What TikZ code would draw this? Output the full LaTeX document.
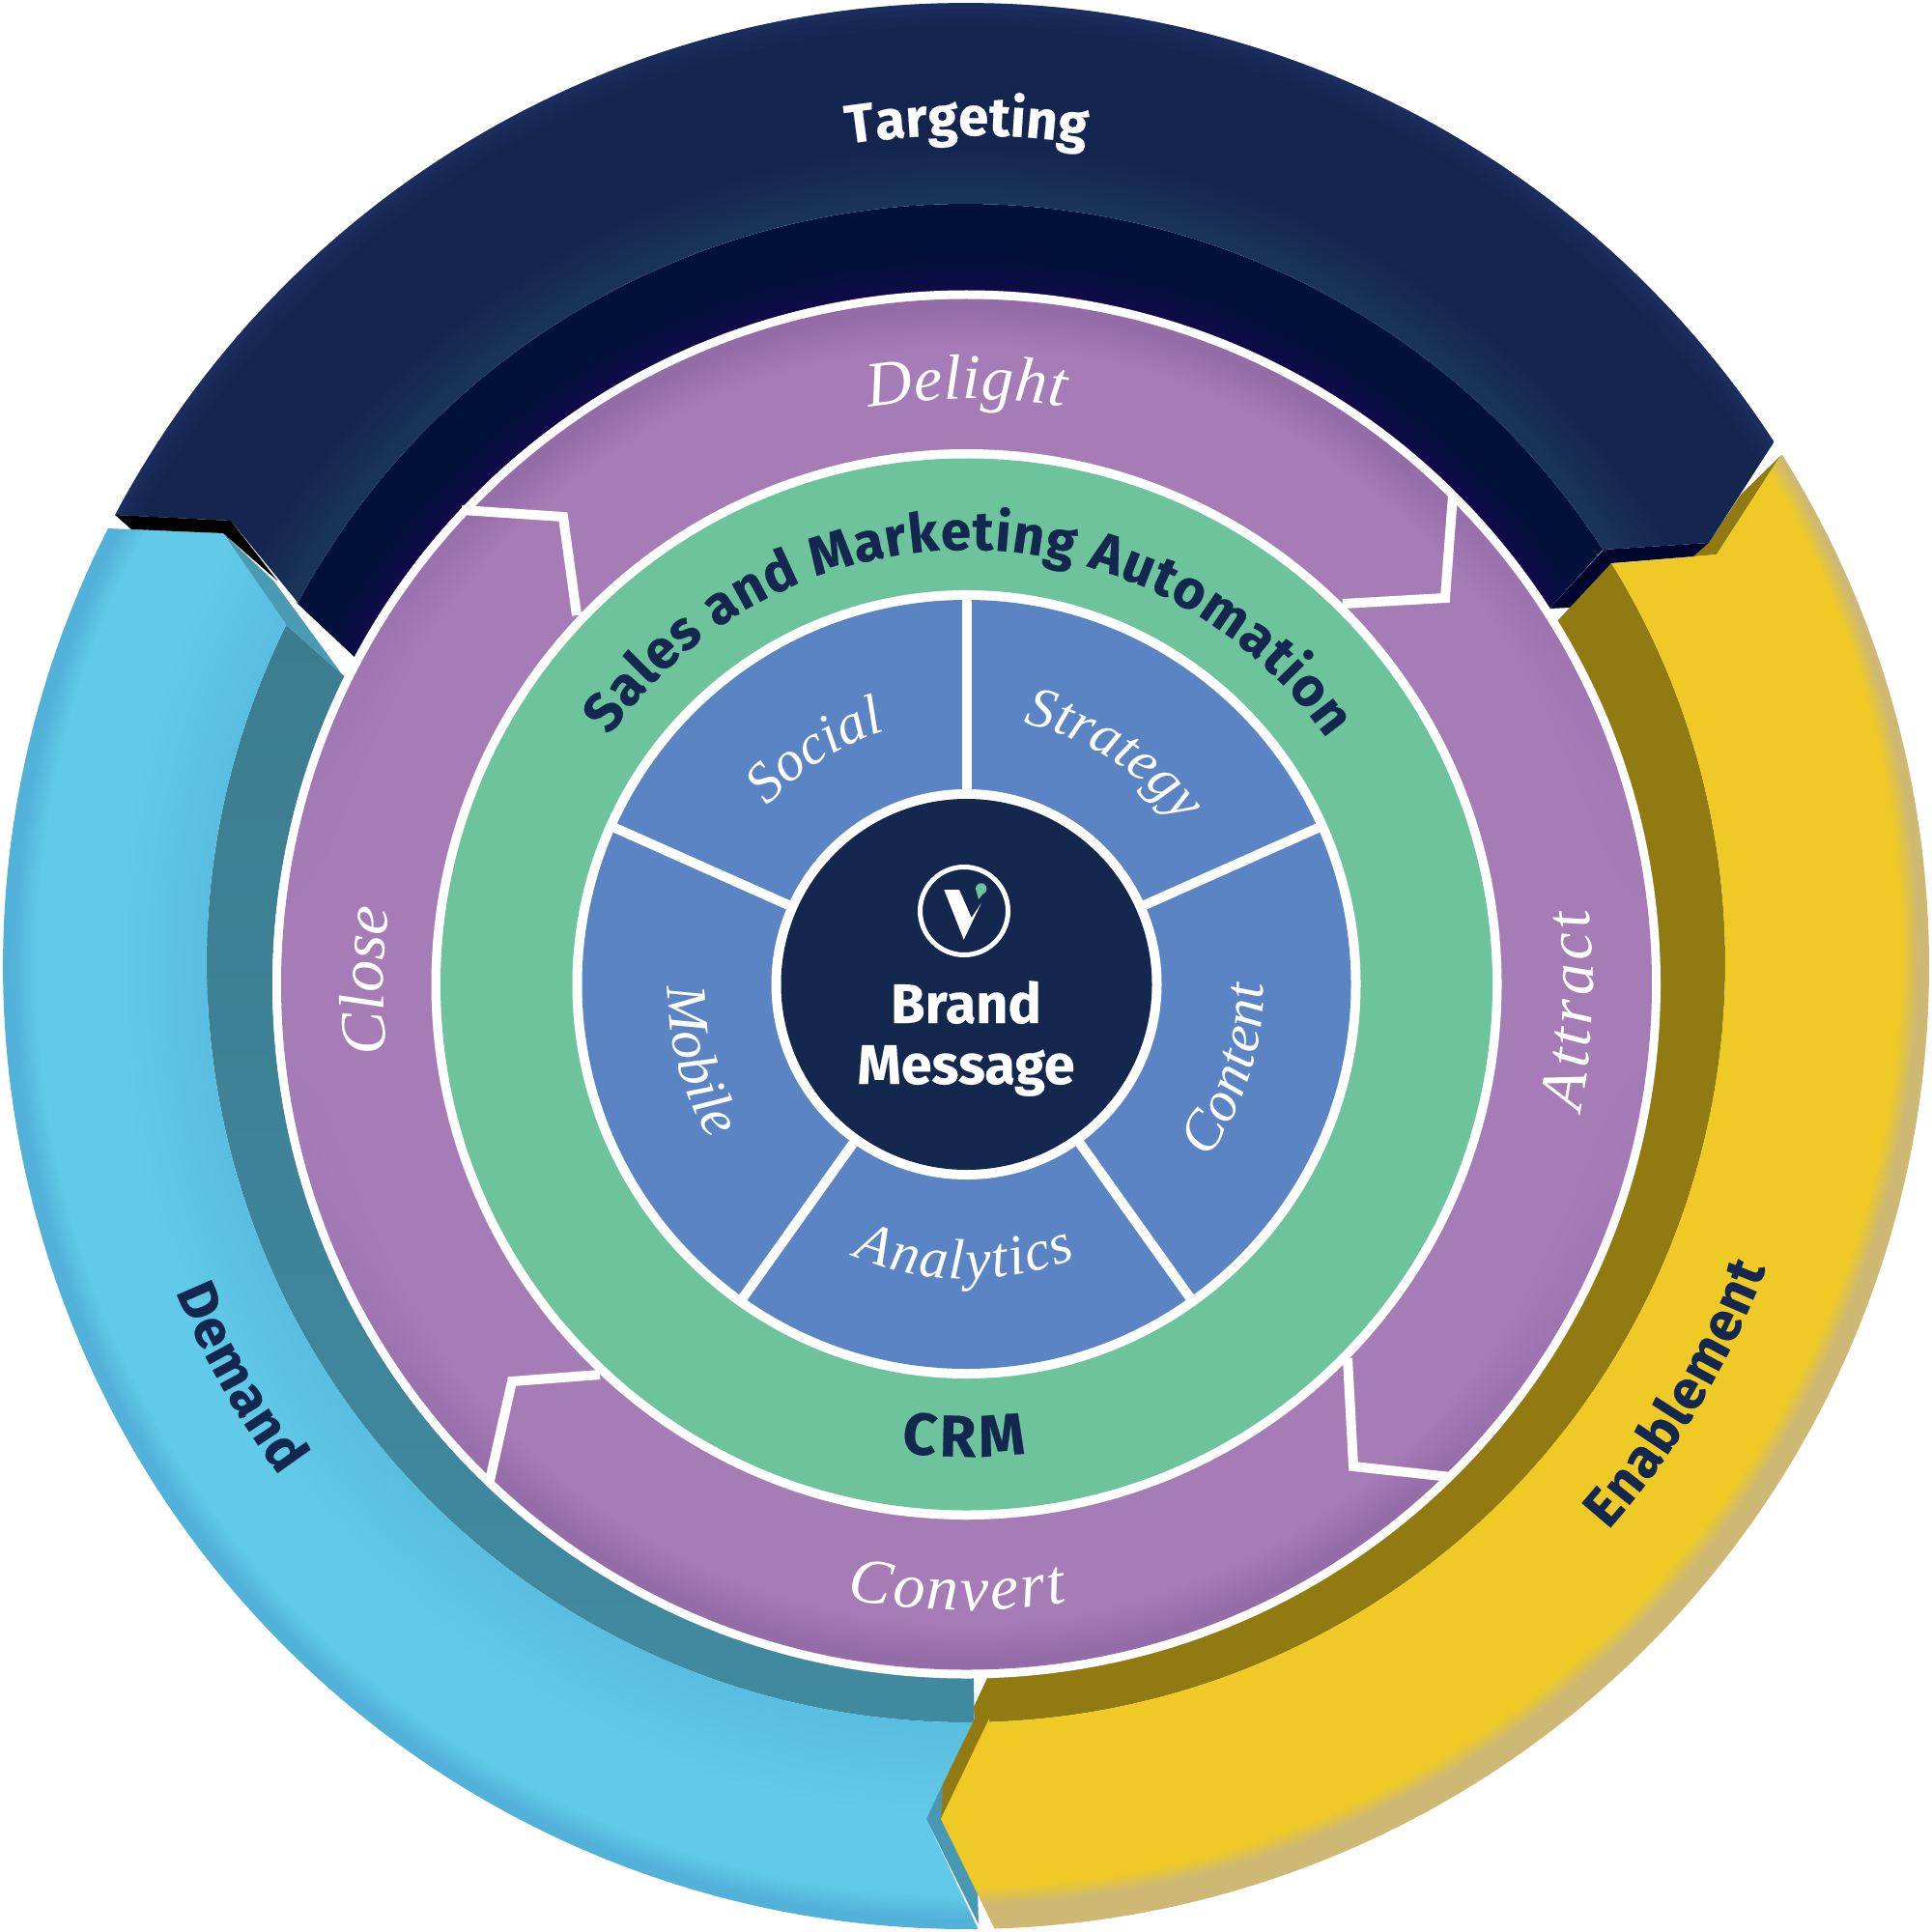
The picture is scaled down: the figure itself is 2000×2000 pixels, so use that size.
\documentclass[tikz,border=0pt]{standalone}
\usepackage{fontspec}
\usetikzlibrary{decorations.text}
\newfontfamily\boldfam{Fira Sans}[BoldFeatures={FakeBold=0.35}]
\newfontfamily\italfam{Liberation Serif}
\definecolor{navy}{HTML}{14274E}
\definecolor{blackish}{HTML}{000000}
\definecolor{stripnavy}{HTML}{01062F}
\definecolor{tealshadow}{HTML}{4A9AB4}
\definecolor{notchshadow}{HTML}{4898B4}
\definecolor{tealtop}{HTML}{3C7C90}
\definecolor{tealbot}{HTML}{408AA0}
\definecolor{darkgold}{HTML}{917A11}
\definecolor{greenring}{HTML}{6DC39B}
\definecolor{bluering}{HTML}{5B84C4}
\definecolor{navyedge}{HTML}{2A3A80}
% --- position dependent colours: the whole page is -50..50 in shading units (1 unit = 20 px)
\newcommand\myclamp{dup 0 lt {pop 0} if dup 1 gt {pop 1} if }
\newcommand\wall{pop 1 }
\newcommand\wsin{dup mul 1.7 mul dup 1 gt {pop 1} if }
\newcommand\geomcode[7]{#2 sub exch #1 sub 2 copy dup mul exch dup mul add sqrt 0.01 add exch pop dup 3 1 roll div #3 exch 20 mul dup #4 sub #5 div \myclamp exch #6 exch sub #7 div \myclamp 2 copy lt {exch} if pop mul }
\newcommand\mixrgb[6]{dup #4 mul #1 add exch dup #5 mul #2 add exch #6 mul #3 add }
\pgfdeclarefunctionalshading{shTL}{\pgfpoint{-50bp}{-50bp}}{\pgfpoint{50bp}{50bp}}{}{\geomcode{0}{0}{\wall}{5000}{1}{850}{64}\mixrgb{.078}{.149}{.31}{.028}{.063}{.043}}
\pgfdeclarefunctionalshading{shTD}{\pgfpoint{-50bp}{-50bp}}{\pgfpoint{50bp}{50bp}}{}{\geomcode{0}{-.95}{\wall}{5000}{1}{755}{35}\mixrgb{.008}{.067}{.224}{.051}{-.028}{.058}}
\pgfdeclarefunctionalshading{shP}{\pgfpoint{-50bp}{-50bp}}{\pgfpoint{50bp}{50bp}}{}{\geomcode{0}{-.95}{\wsin}{660}{40}{0}{1}\mixrgb{.651}{.486}{.718}{-.071}{-.062}{-.059}}
\pgfdeclarefunctionalshading{shB}{\pgfpoint{-50bp}{-50bp}}{\pgfpoint{50bp}{50bp}}{}{\geomcode{0}{0}{\wall}{962}{25}{880}{190}\mixrgb{.38}{.792}{.91}{-.058}{-.098}{-.059}}
\pgfdeclarefunctionalshading{shG}{\pgfpoint{-50bp}{-50bp}}{\pgfpoint{50bp}{50bp}}{}{\geomcode{0}{.75}{\wall}{968}{18}{0}{1}\mixrgb{.937}{.792}{.153}{-.133}{-.067}{.302}}
% --- arcs: angle measured clockwise on screen, from #4 to #5 round (#1,#2) radius #3
\newcommand\arcto[5]{-- plot[domain=0:1,samples=121] ({#1+#3*cos(#4+(#5-#4)*\x)},{#2+#3*sin(#4+(#5-#4)*\x)})}
\newcommand\arctext[6]{\path[decorate,decoration={text along path,text={#6},text align=fit to path}] plot[domain=0:1,samples=61] ({#1+#3*cos(#4+(#5-#4)*\x)},{#2+#3*sin(#4+(#5-#4)*\x)});}
\newcommand\arctextleft[6]{\path[decorate,decoration={text along path,text={#6}}] plot[domain=0:1,samples=61] ({#1+#3*cos(#4+(#5-#4)*\x)},{#2+#3*sin(#4+(#5-#4)*\x)});}
% --- band outlines
\newcommand\TargetLight{(119,533) \arcto{1000}{1000}{997}{207.93}{327.06} -- (1769,562) -- (1660,569) \arcto{1000}{997}{786}{327.04}{208.32} -- (239,539) -- cycle}
\newcommand\TargetDark{(306,623) \arcto{1000}{997}{786}{208.32}{327.04} -- (1604,630) \arcto{1000}{1019}{718}{327.18}{208.13} -- cycle}
\newcommand\BlueBand{(111,547) \arcto{1000}{1000}{997}{207}{89.25} -- (959,1883) -- (973,1855) -- (1009,1779) \arcto{1000}{997}{786}{89.34}{206.5} -- (231,552) -- cycle}
\newcommand\GoldBand{(1843,472) \arcto{1000}{1000}{997}{-32.06}{88.33} -- (974,1883) -- (1024,1779) \arcto{1000}{997}{786}{88.24}{-31.79} -- (1777,574) -- cycle}
\newcommand\shadefill[1]{\node[inner sep=0pt,scale=9.9626] (#1page) at (1000,1000) {\pgfuseshading{#1}};}
\tikzset{
  chevron/.style={draw=white,line width=5pt,miter limit=10,line join=miter},
  spoke/.style={draw=white,line width=5pt},
  bigword/.style={text=white,inner sep=0pt,anchor=base,font=\boldfam\bfseries\fontsize{28.8}{30}\selectfont}
}
\newcommand\boldwhite{\boldfam\bfseries\fontsize{28.2}{30}\selectfont\color{white}}
\newcommand\boldnavy{\boldfam\bfseries\fontsize{28.2}{30}\selectfont\color{navy}}
\newcommand\boldcrm{\boldfam\bfseries\fontsize{30.5}{32}\selectfont\color{navy}}
\newcommand\italbig{\italfam\itshape\fontsize{33}{36}\selectfont\color{white}}
\newcommand\italsmall{\italfam\itshape\fontsize{29.5}{32}\selectfont\color{white}}
\begin{document}
\begin{tikzpicture}[x=0.5pt,y=-0.5pt]
\useasboundingbox (0,0) rectangle (2000,2000);
% teal under blue
\shade[top color=tealtop,bottom color=tealbot] (294,645) \arcto{1000}{997}{786}{206.5}{89.34} -- (1008,1737) \arcto{1000}{1019}{718}{89.44}{206.4} -- (354,698) -- cycle;
\fill[tealshadow] (231,552) -- (283,601) -- (354,698) -- (294,645) -- cycle;
\begin{scope}\clip \BlueBand; \shadefill{shB} \end{scope}
\fill[notchshadow] (976,1847) -- (959,1883) -- (1013,1992) -- (1012,1957) -- (975,1883) -- cycle;
% gold shadow parts
\fill[darkgold] (1843,472) -- (1777,574) -- (1753,576) -- (1769,562) -- (1802,512) -- cycle;
\fill[darkgold] (1625,629) -- (1668,583) \arcto{1000}{997}{786}{-31.79}{88.24} -- (974,1883) -- (976,1847) -- (1009,1779) -- (1008,1767) -- (1022,1737) \arcto{1000}{1019}{718}{88.32}{-31.6} -- (1612,643) -- cycle;
\begin{scope}\clip \GoldBand; \shadefill{shG} \end{scope}
% targeting
\begin{scope}\clip \TargetDark; \shadefill{shTD} \end{scope}
\begin{scope}\clip \TargetLight; \shadefill{shTL}
  \foreach \rr/\op in {976/.08,982/.13,988/.2,994/.32}{
    \draw[navyedge,opacity=\op,line width=3pt] (1000,1000) circle[radius=\rr];}
\end{scope}
\fill[blackish] (119,533) -- (239,539) -- (287,601) -- (231,552) -- (136,548) -- cycle;
\fill[stripnavy] (1660,569) -- (1769,562) -- (1753,576) -- (1668,583) -- (1625,629) -- (1604,630) -- cycle;
% discs
\fill[white] (1000.5,1019) circle[radius=718.5];
\begin{scope}\clip (1000.5,1019) circle[radius=709.5]; \shadefill{shP} \end{scope}
\draw[chevron] (478,528) -- (583,535) -- (597,637);
\draw[chevron] (1504,512) -- (1496,619) -- (1390,625);
\draw[chevron] (1395,1406) -- (1401,1518) -- (1502,1529);
\draw[chevron] (621,1423) -- (530,1430) -- (506,1537);
\fill[white] (1000.5,1019) circle[radius=554];
\fill[greenring] (1000.5,1019) circle[radius=544.5];
\fill[white] (1000.5,1019) circle[radius=408];
\fill[bluering] (1000.5,1019) circle[radius=398];
\foreach \a in {-90,-24,54.5,125.5,204}{
  \draw[spoke] ({1000.5+190*cos(\a)},{1019+190*sin(\a)}) -- ({1000.5+403*cos(\a)},{1019+403*sin(\a)});}
\fill[white] (1000.5,1019) circle[radius=202];
\fill[navy] (1000.5,1019) circle[radius=192];
% logo
\draw[white,line width=2.5pt] (998,943) circle[radius=45.5];
\fill[white] (977.3,921) -- (993,921) -- (1005.7,950) -- (1015.7,935) -- (997.7,972.7) -- cycle;
\fill[greenring] (1015.7,920) circle[radius=5.7];
\fill[greenring] (1021,921) -- (1013,931) -- (1011,924) -- cycle;
% centre words
\node[bigword] (brand) at (1000,1059) {Brand};
\node[bigword] (message) at (1000,1122) {Message};
% curved words
\arctext{1000}{1000}{860}{261.8}{278.1}{|\boldwhite|Targeting}
\arctext{1001}{1021}{452}{215}{325.5}{|\boldnavy|Sales and Marketing Automation}
\arctext{1001}{1021}{487}{98.04}{82.8}{|\boldcrm|CRM}
\arctext{1000}{1000}{885}{157.6}{143.4}{|\boldnavy|Demand}
\arctext{1000}{1000}{885}{41.3}{20.7}{|\boldnavy|Enablement}
\arctext{1001}{1021}{608}{260.4}{279.5}{|\italbig|Delight}
\arctext{1001}{1021}{646}{101.07}{80.73}{|\italbig|Convert}
\arctext{1001}{1021}{604}{173.44}{187.5}{|\italbig|Close}
\arctext{1001}{1021}{648}{11.6}{-7.1}{|\italbig|Attract}
\arctext{1001}{1021}{303}{112.9}{68}{|\italsmall|Analytics}
\arctextleft{1001}{1021}{278}{222}{262}{|\italsmall|Social}
\arctextleft{1001}{1021}{278}{282.2}{332}{|\italsmall|Strategy}
\arctext{1001}{1021}{307}{35.5}{-0.5}{|\italsmall|Content}
\arctext{1001}{1021}{310}{180}{149}{|\italsmall|Mobile}
\end{tikzpicture}
\end{document}
